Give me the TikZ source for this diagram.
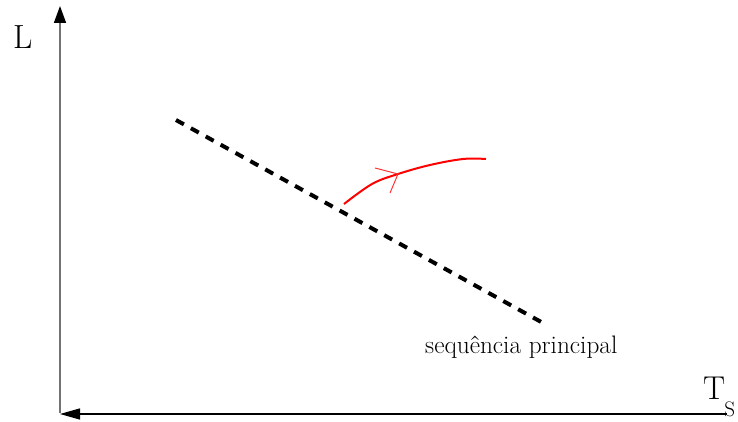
\documentclass[tikz,border=0pt]{standalone}
\usepackage{fontspec}
\usetikzlibrary{arrows.meta}
\begin{document}
\begin{tikzpicture}[x=1pt,y=-1pt,
  yaxis/.style={draw=black!55, line width=1.6pt, -{Triangle[length=17pt,width=12pt,color=black]}},
  xaxis/.style={draw=black, line width=1.4pt, -{Triangle[length=20pt,width=11pt]}},
  mainseq/.style={draw=black, line width=4pt, dash pattern=on 9pt off 8pt},
  track/.style={draw=red, line width=2pt},
  tick/.style={draw=red!80, line width=1pt},
  lbl/.style={inner sep=0pt, anchor=base west, font=\rmfamily}]
\useasboundingbox (0,0) rectangle (738,422);
% axes
\coordinate (o) at (60,414);
\coordinate (ybase) at (60,413);
\coordinate (ytop) at (60,6);
\coordinate (xend) at (727,414);
\draw[yaxis] (ybase) -- (ytop);
\draw[xaxis] (xend) -- (o);
% labels
\node[lbl] (L) at (13,49) {\fontsize{33.5}{34}\selectfont L};
\node[lbl] (Ts) at (703,399) {\fontsize{33}{33}\selectfont T\kern-1pt\raisebox{-17pt}{\fontsize{21}{21}\selectfont S}};
\node[lbl] (seq) at (425,353) {\fontsize{25.3}{26}\selectfont sequência principal};
% main sequence
\coordinate (m1) at (176,120);
\coordinate (m2) at (543,323);
\draw[mainseq] (m1) -- (m2);
% evolutionary track
\coordinate (t0) at (344,204);
\coordinate (t1) at (372,184);
\coordinate (t2) at (398,174);
\coordinate (t3) at (430,165);
\coordinate (t4) at (463,159);
\coordinate (t5) at (486,159);
\draw[track] plot[smooth, tension=0.6] coordinates {(t0) (t1) (t2) (t3) (t4) (t5)};
\coordinate (a1) at (375,168);
\coordinate (a2) at (390,193);
\draw[tick] (a1) -- (t2) -- (a2);
\end{tikzpicture}
\end{document}
